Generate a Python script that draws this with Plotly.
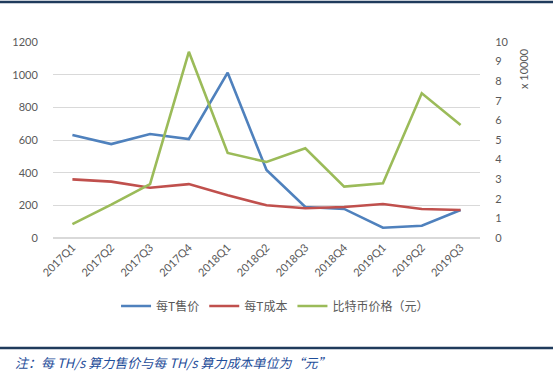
import plotly.graph_objects as go

categories = ["2017Q1", "2017Q2", "2017Q3", "2017Q4", "2018Q1", "2018Q2",
              "2018Q3", "2018Q4", "2019Q1", "2019Q2", "2019Q3"]
price_per_t = [630, 575, 637, 606, 1012, 416, 190, 178, 63, 75, 171]
cost_per_t = [359, 345, 308, 330, 262, 200, 182, 190, 208, 178, 171]
btc_price_10k = [0.71, 1.7, 2.75, 9.5, 4.34, 3.88, 4.58, 2.62, 2.79, 7.38, 5.77]

left_ticks = [0, 200, 400, 600, 800, 1000, 1200]
right_ticks = list(range(0, 11))

W, H = 553, 388
ML, MR, MT, MB = 53, 73, 42, 150
PW, PH = W - ML - MR, H - MT - MB

def px_x(x):
    return (x - ML) / PW

def px_y(y):
    return (H - MB - y) / PH

BLUE = "#4F81BD"
RED = "#C0504D"
GREEN = "#9BBB59"
TICK = dict(family="Lato, 'Noto Sans CJK SC', sans-serif", size=11, color="#595959")

fig = go.Figure()
fig.add_trace(go.Scatter(x=categories, y=price_per_t, name="每T售价", mode="lines",
                         line=dict(color=BLUE, width=2.6)))
fig.add_trace(go.Scatter(x=categories, y=cost_per_t, name="每T成本", mode="lines",
                         line=dict(color=RED, width=2.6)))
fig.add_trace(go.Scatter(x=categories, y=btc_price_10k, name="比特币价格（元）", mode="lines",
                         line=dict(color=GREEN, width=2.6), yaxis="y2"))

fig.update_layout(
    width=W, height=H,
    margin=dict(l=ML, r=MR, t=MT, b=MB, autoexpand=False),
    paper_bgcolor="white", plot_bgcolor="white",
    showlegend=True,
    legend=dict(orientation="h", x=0.52, xanchor="center", y=px_y(306), yanchor="middle",
                font=dict(family="'Noto Sans CJK SC', sans-serif", size=12, color="#595959"),
                itemwidth=30, tracegroupgap=0),
    xaxis=dict(type="category", tickangle=-45, tickfont=TICK, showgrid=False,
               showline=False, ticks="", range=[-0.5, len(categories) - 0.5]),
    yaxis=dict(range=[0, 1200], tickvals=left_ticks, tickfont=TICK, showgrid=True,
               gridcolor="#D9D9D9", gridwidth=1, zeroline=True, zerolinecolor="#D9D9D9",
               showline=False, ticks="outside", ticklen=12, tickcolor="rgba(0,0,0,0)"),
    yaxis2=dict(range=[0, 10], tickvals=right_ticks, tickfont=TICK, overlaying="y",
                side="right", showgrid=False, zeroline=False, showline=False,
                ticks="outside", ticklen=12, tickcolor="rgba(0,0,0,0)"),
    shapes=[
        dict(type="line", xref="paper", yref="paper", x0=px_x(0), x1=px_x(553),
             y0=px_y(2), y1=px_y(2), line=dict(color="#1F3B5C", width=2.5)),
        dict(type="line", xref="paper", yref="paper", x0=px_x(0), x1=px_x(553),
             y0=px_y(348), y1=px_y(348), line=dict(color="#1F3B5C", width=2.5)),
    ],
    annotations=[
        dict(text="x 10000", xref="paper", yref="paper", x=px_x(523), y=px_y(69),
             showarrow=False, textangle=-90, xanchor="center", yanchor="middle",
             font=dict(family="Lato, sans-serif", size=11, color="#595959")),
        dict(text="<i>注：每 TH/s 算力售价与每 TH/s 算力成本单位为“元”</i>", xref="paper", yref="paper",
             x=px_x(13), y=px_y(362), showarrow=False, xanchor="left", yanchor="middle",
             font=dict(family="'Noto Sans CJK SC', sans-serif", size=13, color="#1F4E9A")),
    ],
)

fig.write_html("out.html", config={"displayModeBar": False},
               post_script="document.body.style.margin='0';document.body.style.overflow='hidden';")
